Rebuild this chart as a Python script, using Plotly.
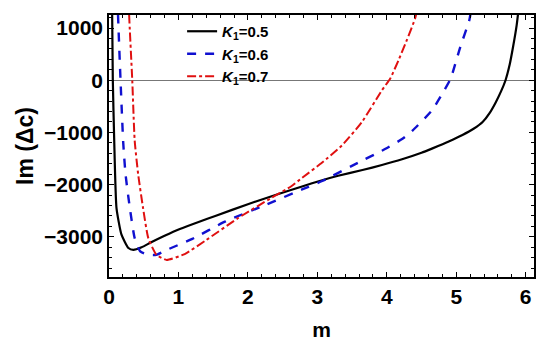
import plotly.graph_objects as go

# K1 = 0.5 (black, solid)
m_k05 = [0.045, 0.055, 0.075, 0.108, 0.18, 0.28, 0.35, 0.47, 0.6, 0.8, 1.02, 1.3, 1.53, 2.01, 2.44, 2.78,
         3.07, 3.3, 3.65, 3.93, 4.22, 4.5, 4.65, 4.9, 5.09, 5.25, 5.38, 5.48, 5.57, 5.65, 5.71, 5.77, 5.82,
         5.87, 5.91]
im_k05 = [1300, 0, -1150, -2450, -2960, -3215, -3250, -3200, -3110, -2980, -2850, -2710, -2600, -2370, -2180,
          -2035, -1915, -1830, -1720, -1625, -1515, -1390, -1310, -1170, -1050, -930, -800, -630, -420, -200,
          0, 300, 650, 1050, 1500]

# K1 = 0.6 (blue, dashed)
m_k06 = [0.125, 0.13, 0.166, 0.205, 0.238, 0.30, 0.37, 0.45, 0.55, 0.68, 0.85, 1.2, 1.67, 2.25, 2.78,
         3.07, 3.64, 3.93, 4.22, 4.37, 4.65, 4.80, 4.92, 5.06, 5.19, 5.23]
im_k06 = [1600, 1250, 0, -1200, -1800, -2446, -3025, -3280, -3340, -3345, -3240, -3040, -2710, -2390, -2093,
          -1931, -1544, -1351, -1127, -965, -579, -257, 33, 644, 1160, 1500]

# K1 = 0.7 (red, dot-dashed)
m_k07 = [0.285, 0.29, 0.335, 0.37, 0.42, 0.49, 0.566, 0.685, 0.83, 1.09, 1.38, 1.86, 2.34, 2.63, 2.78,
         3.07, 3.35, 3.64, 3.93, 4.05, 4.17, 4.29, 4.41, 4.45]
im_k07 = [1600, 1250, 0, -1158, -1802, -2446, -3025, -3347, -3443, -3330, -3080, -2640, -2253, -2027, -1870,
          -1577, -1255, -805, -193, 33, 386, 773, 1193, 1450]

x_ticks = [0, 1, 2, 3, 4, 5, 6]
y_ticks = [-3000, -2000, -1000, 0, 1000]

FONT = "Liberation Sans"

fig = go.Figure()
fig.add_trace(go.Scatter(x=m_k05, y=im_k05, mode="lines", name="<i>K</i><sub>1</sub>=0.5",
                         line=dict(color="black", width=2.2, shape="spline", smoothing=0.5)))
fig.add_trace(go.Scatter(x=m_k06, y=im_k06, mode="lines", name="<i>K</i><sub>1</sub>=0.6",
                         line=dict(color="#1010d0", width=2.4, dash="dash", shape="spline", smoothing=0.5)))
fig.add_trace(go.Scatter(x=m_k07, y=im_k07, mode="lines", name="<i>K</i><sub>1</sub>=0.7",
                         line=dict(color="#e01010", width=2.0, dash="dashdot", shape="spline", smoothing=0.5)))

axis_common = dict(
    showgrid=False, showline=True, linecolor="black", linewidth=1.5, mirror="allticks",
    ticks="inside", ticklen=5, tickcolor="black", tickwidth=1, automargin=False,
    tickfont=dict(family=FONT, size=21, color="black", weight="bold"),
)

fig.update_layout(
    width=542, height=341,
    margin=dict(l=101, r=16, t=7, b=72),
    paper_bgcolor="white", plot_bgcolor="white",
    showlegend=True,
    legend=dict(x=0.172, y=1.0, xanchor="left", yanchor="top", bgcolor="rgba(0,0,0,0)",
                font=dict(family=FONT, size=15, color="black", weight="bold"),
                tracegroupgap=0),
    xaxis=dict(range=[0, 6.12], tickvals=x_ticks, zeroline=False,
               minor=dict(ticks="inside", dtick=0.2, ticklen=3, tickcolor="black"),
               title=dict(text="m", font=dict(family=FONT, size=21, color="black", weight="bold"), standoff=15),
               **axis_common),
    yaxis=dict(range=[-3770, 1250], tickvals=y_ticks, zeroline=True, zerolinecolor="#777777", zerolinewidth=1,
               minor=dict(ticks="inside", dtick=200, ticklen=3, tickcolor="black"),
               title=dict(text="Im (Δc)", font=dict(family=FONT, size=23, color="black", weight="bold"), standoff=4),
               **axis_common),
)

fig.write_html("out.html")
